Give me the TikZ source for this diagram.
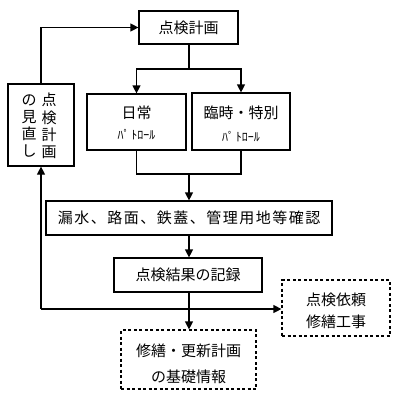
\documentclass[tikz,border=0pt]{standalone}
\usepackage{fontspec}
\newfontfamily\jp{Noto Sans CJK JP}
\usetikzlibrary{arrows.meta}
\begin{document}
\begin{tikzpicture}[x=1pt,y=-1pt,
  every node/.style={font=\jp\fontsize{15}{17}\selectfont, inner sep=0pt, align=center},
  box/.style={draw, line width=1.2pt, minimum width=#1},
  dbox/.style={draw, line width=1.2pt, dash pattern=on 3pt off 2.5pt, minimum width=#1},
  ln/.style={line width=1.2pt},
  arr/.style={line width=1.2pt, -{Triangle[length=8pt,width=8pt]}},
  small/.style={font=\jp\fontsize{12}{12}\selectfont}
]
\useasboundingbox (0,0) rectangle (401,400);
% boxes
\node[box=99pt, minimum height=33pt] (plan) at (188.5,27.5) {点検計画};
\node[box=66pt, minimum height=82pt] (review) at (41,125) {};
\node[font=\jp\fontsize{15}{17.3}\selectfont] (rv1) at (49,126) {点\\検\\計\\画};
\node[font=\jp\fontsize{15}{17.3}\selectfont] (rv2) at (29,126) {の\\見\\直\\し};
\node[box=99pt, minimum height=56pt] (daily) at (136.5,122) {};
\node (dailyt) at (136.5,112.5) {日常};
\node[small] (dailyp) at (136.5,134.5) {ﾊﾟ\,ﾄﾛｰﾙ};
\node[box=98pt, minimum height=57pt] (special) at (241,121.5) {};
\node (specialt) at (241,112.5) {臨時・特別};
\node[small] (specialp) at (241,137) {ﾊﾟ\,ﾄﾛｰﾙ};
\node[box=286pt, minimum height=34pt, font=\jp\fontsize{15}{17}\selectfont\addfontfeature{LetterSpace=10}] (check) at (189,218) {漏水、路面、鉄蓋、管理用地等確認};
\node[box=148pt, minimum height=34pt] (record) at (188,275) {点検結果の記録};
\node[dbox=108pt, minimum height=56pt] (request) at (336,308) {};
\node[font=\jp\fontsize{15}{22}\selectfont] (requestt) at (336,311) {点検依頼\\修繕工事};
\node[dbox=135pt, minimum height=59pt] (base) at (188.5,359.5) {};
\node[font=\jp\fontsize{15}{26}\selectfont] (baset) at (188.5,364) {修繕・更新計画\\の基礎情報};
% coordinates
\coordinate (j1) at (189,69);
\coordinate (j2) at (189,174);
\coordinate (lc) at (41,309);
% connectors
\draw[ln] (plan.south -| j1) -- (j1);
\draw[arr] (j1) -| (daily.north);
\draw[arr] (j1) -| (special.north);
\draw[ln] (daily.south) |- (j2) -| (special.south);
\draw[arr] (j2) -- (check.north -| j2);
\draw[arr] (check.south -| j2) -- (record.north -| j2);
\draw[arr] (record.south -| j2) -- (base.north -| j2);
\draw[arr] (lc) -- (review.south);
\draw[arr] (review.north) |- (plan.west);
\draw[arr] (lc) -- (request.west |- lc);
\end{tikzpicture}
\end{document}
